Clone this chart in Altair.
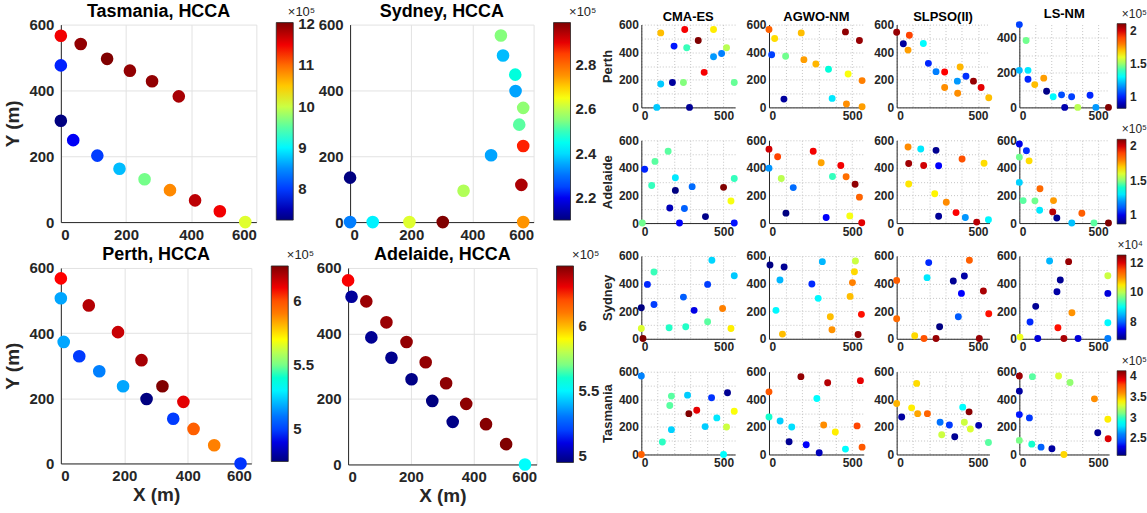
import altair as alt
import pandas as pd

FONT = "Liberation Sans"
INK = "#262626"
# jet colormap, 9 evenly spaced stops
JET = ["#000080", "#0000ff", "#0080ff", "#00ffff", "#80ff80",
       "#ffff00", "#ff8000", "#ff0000", "#800000"]

# ---------------- HCCA layouts (large panels), colour in units of 1e5 ----------------
TAS_HCCA_X = [0, 61, 142, 212, 280, 362, 0, 0, 38, 112, 180, 257, 335, 412, 488, 566]
TAS_HCCA_Y = [566, 541, 496, 460, 428, 382, 476, 308, 249, 202, 162, 130, 97, 66, 33, 0]
TAS_HCCA_C = [11.5, 11.95, 12.04, 11.95, 11.95, 11.85, 7.9, 7.24, 7.8, 8.0, 8.7, 9.6, 10.8, 11.75, 11.5, 10.1]

SYD_HCCA_X = [493, 500, 540, 541, 566, 553, 566, 461, 560, 371, 0, 0, 74, 194, 303, 566]
SYD_HCCA_Y = [567, 506, 448, 398, 347, 296, 231, 203, 113, 95, 135, 0, 0, 0, 0, 0]
SYD_HCCA_C = [2.55, 2.37, 2.47, 2.35, 2.56, 2.52, 2.87, 2.35, 2.95, 2.59, 2.10, 2.32, 2.42, 2.63, 2.99, 2.75]

PER_HCCA_X = [0, 0, 88, 180, 254, 320, 386, 9, 58, 121, 196, 270, 354, 418, 483, 566]
PER_HCCA_Y = [568, 507, 485, 403, 317, 237, 189, 373, 329, 283, 237, 198, 137, 106, 56, 0]
PER_HCCA_C = [6.08, 5.18, 6.19, 6.16, 6.21, 6.27, 6.12, 5.18, 4.99, 5.13, 5.18, 4.75, 4.99, 5.97, 5.89, 4.98]

ADE_HCCA_X = [0, 11, 58, 122, 74, 186, 138, 247, 202, 312, 268, 376, 333, 439, 503, 563]
ADE_HCCA_Y = [562, 512, 498, 434, 388, 374, 326, 312, 260, 248, 194, 185, 130, 123, 62, 0]
ADE_HCCA_C = [6.28, 4.99, 6.42, 6.42, 4.98, 6.43, 4.97, 6.43, 4.96, 6.44, 4.95, 6.44, 4.96, 6.45, 6.46, 5.52]

# ---------------- comparison layouts (small panels) ----------------
PER_CMA_X = [118, 264, 439, 346, 199, 276, 518, 488, 439, 382, 118, 189, 256, 565, 94, 293]
PER_CMA_Y = [540, 564, 564, 485, 444, 432, 432, 391, 367, 254, 170, 180, 180, 180, 0, 0]
PER_CMA_C = [1.71, 1.96, 1.65, 2.11, 0.99, 1.40, 1.54, 1.14, 1.17, 1.96, 1.23, 0.86, 1.47, 1.44, 1.23, 0.85]

PER_AGWO_X = [0, 34, 194, 460, 544, 16, 100, 210, 282, 358, 476, 560, 90, 380, 466, 560]
PER_AGWO_Y = [564, 499, 540, 547, 485, 382, 370, 346, 314, 276, 242, 194, 60, 65, 24, 5]
PER_AGWO_C = [1.85, 1.67, 1.71, 2.09, 2.08, 1.03, 1.45, 1.75, 1.72, 1.36, 1.62, 1.79, 0.86, 1.27, 1.77, 1.75]

PER_SLPSO_X = [0, 78, 41, 70, 164, 195, 242, 295, 390, 426, 373, 472, 295, 375, 519, 566]
PER_SLPSO_Y = [545, 523, 461, 415, 463, 319, 259, 257, 293, 226, 190, 190, 144, 103, 144, 70]
PER_SLPSO_C = [2.08, 1.90, 0.86, 1.75, 1.30, 1.00, 1.14, 1.95, 1.72, 1.01, 1.17, 2.08, 1.77, 1.77, 1.98, 1.71]

PER_LS_X = [0, 43, 0, 55, 55, 155, 98, 173, 215, 268, 332, 449, 288, 371, 486, 566]
PER_LS_Y = [476, 385, 213, 213, 162, 168, 131, 93, 61, 72, 61, 70, 0, 0, 0, 0]
PER_LS_C = [1.03, 1.45, 1.21, 1.27, 1.00, 1.75, 1.71, 0.83, 1.30, 1.05, 1.03, 1.00, 0.88, 1.54, 1.17, 2.11]

ADE_CMA_X = [163, 83, 20, 63, 207, 207, 309, 500, 565, 545, 173, 262, 390, 6, 232, 565]
ADE_CMA_Y = [521, 447, 390, 272, 328, 237, 264, 259, 323, 160, 109, 106, 47, 0, 0, 0]
ADE_CMA_C = [1.45, 1.45, 1.04, 1.42, 1.30, 0.87, 1.14, 2.10, 1.42, 1.63, 0.94, 1.12, 0.88, 1.47, 1.02, 1.03]

ADE_AGWO_X = [0, 52, 266, 0, 74, 146, 314, 382, 432, 464, 518, 544, 102, 344, 486, 558]
ADE_AGWO_Y = [536, 481, 521, 398, 323, 257, 437, 338, 417, 336, 281, 188, 72, 40, 52, 2]
ADE_AGWO_C = [2.00, 1.90, 1.96, 1.20, 1.56, 1.14, 1.75, 1.42, 1.96, 1.83, 2.08, 1.85, 0.87, 1.02, 1.63, 1.98]

ADE_SLPSO_X = [70, 148, 242, 74, 166, 258, 402, 537, 74, 234, 305, 365, 258, 422, 492, 564]
ADE_SLPSO_Y = [551, 537, 527, 432, 417, 415, 464, 434, 283, 212, 151, 76, 49, 41, 7, 24]
ADE_SLPSO_C = [1.78, 1.30, 0.89, 2.06, 2.00, 1.02, 1.88, 1.68, 1.67, 1.65, 1.78, 1.95, 0.90, 1.20, 2.03, 1.32]

ADE_LS_X = [0, 45, 0, 62, 0, 131, 24, 99, 217, 129, 212, 238, 333, 397, 474, 566]
ADE_LS_Y = [573, 525, 478, 451, 295, 249, 163, 161, 163, 93, 81, 37, 0, 71, 0, 0]
ADE_LS_C = [1.00, 1.05, 1.47, 1.68, 1.27, 1.84, 1.45, 1.47, 1.76, 1.30, 2.03, 0.89, 1.25, 1.86, 1.45, 2.10]

SYD_CMA_X = [429, 565, 77, 37, 403, 256, 77, 0, 321, 494, 403, 0, 169, 270, 545, 10]
SYD_CMA_Y = [569, 457, 484, 394, 394, 302, 249, 225, 206, 220, 123, 75, 80, 87, 75, 2]
SYD_CMA_C = [8.68, 8.6, 9.37, 7.59, 7.7, 7.93, 7.7, 6.8, 7.36, 11.1, 9.5, 10.2, 9.3, 9.3, 10.47, 12.54]

SYD_AGWO_X = [6, 91, 321, 520, 66, 258, 514, 502, 42, 296, 488, 556, 369, 379, 81, 536]
SYD_AGWO_Y = [535, 520, 559, 564, 426, 397, 486, 407, 206, 293, 307, 177, 160, 65, 34, 31]
SYD_AGWO_C = [6.8, 6.9, 8.5, 10.1, 8.5, 7.6, 10.6, 11.1, 8.9, 8.9, 10.75, 11.8, 10.75, 11.0, 10.75, 12.4]

SYD_SLPSO_X = [197, 447, 0, 187, 348, 416, 398, 533, 566, 379, 0, 264, 111, 168, 242, 508]
SYD_SLPSO_Y = [552, 569, 423, 443, 419, 455, 329, 346, 181, 160, 145, 87, 22, 2, 2, 2]
SYD_SLPSO_C = [7.6, 11.4, 11.4, 8.8, 6.9, 7.0, 7.5, 12.3, 11.8, 7.9, 11.3, 6.8, 10.6, 11.5, 12.4, 12.4]

SYD_LS_X = [192, 313, 260, 239, 562, 562, 104, 334, 68, 245, 562, 4, 117, 283, 373, 562]
SYD_LS_Y = [564, 559, 426, 341, 457, 329, 235, 189, 121, 80, 116, 12, 2, 2, 2, 2]
SYD_LS_C = [8.5, 12.4, 6.9, 7.0, 10.1, 7.3, 6.9, 11.0, 7.6, 11.8, 8.9, 10.3, 7.3, 12.3, 7.3, 8.2]

TAS_CMA_X = [0, 0, 183, 173, 281, 427, 524, 289, 337, 565, 183, 388, 459, 518, 128, 500]
TAS_CMA_Y = [569, 0, 423, 355, 430, 411, 447, 296, 321, 313, 180, 202, 265, 199, 90, 0]
TAS_CMA_C = [2.60, 3.73, 3.05, 3.05, 2.74, 2.39, 2.12, 4.14, 3.93, 3.36, 2.75, 2.74, 2.80, 3.27, 2.99, 2.85]

TAS_AGWO_X = [192, 353, 550, 0, 288, 0, 67, 137, 329, 399, 530, 121, 224, 302, 460, 560]
TAS_AGWO_Y = [564, 520, 535, 454, 406, 272, 243, 199, 214, 163, 207, 92, 70, 12, 39, 53]
TAS_AGWO_C = [4.10, 4.03, 3.93, 3.75, 2.85, 2.97, 2.74, 2.78, 3.60, 3.40, 3.80, 2.12, 2.33, 2.20, 2.85, 3.75]

TAS_SLPSO_X = [0, 123, 31, 92, 129, 189, 267, 324, 277, 357, 406, 445, 416, 453, 504, 564]
TAS_SLPSO_Y = [369, 515, 272, 338, 296, 296, 233, 214, 143, 129, 343, 309, 233, 185, 211, 87]
TAS_SLPSO_C = [3.52, 3.44, 2.15, 3.40, 3.55, 3.72, 2.55, 2.40, 3.27, 2.12, 2.85, 4.12, 3.27, 3.30, 2.18, 3.05]

TAS_LS_X = [0, 83, 249, 322, 0, 0, 64, 0, 79, 138, 207, 283, 477, 562, 498, 564]
TAS_LS_Y = [569, 564, 569, 522, 459, 289, 265, 102, 75, 53, 41, 0, 403, 255, 158, 114]
TAS_LS_C = [4.08, 3.05, 3.30, 3.15, 2.15, 2.35, 2.40, 3.10, 2.97, 2.50, 2.15, 3.45, 3.60, 3.40, 2.12, 3.95]

METHODS = ["CMA-ES", "AGWO-NM", "SLPSO(II)", "LS-NM"]
# plot-area widths of the four method columns
COL_W = [94, 95, 93, 90]


def jet(lo, hi):
    stops = [lo + (hi - lo) * k / 8 for k in range(9)]
    return alt.Scale(domain=stops, range=JET)


def big_panel(name, xs, ys, cs, lo, hi, ticks, w, h, show_x, show_y):
    df = pd.DataFrame({"x": xs, "y": ys, "c": cs})
    common = dict(values=[0, 200, 400, 600], ticks=False,
                  labelFont=FONT, labelFontSize=15, labelFontWeight="bold", labelColor=INK,
                  grid=True, gridColor="#e2e2e2", domainColor=INK,
                  titleFont=FONT, titleFontSize=19, titleFontWeight="bold", titleColor=INK)
    x_axis = alt.Axis(title="X (m)" if show_x else None, labelPadding=5, titlePadding=2, **common)
    y_axis = alt.Axis(title="Y (m)" if show_y else None, labelPadding=7, titlePadding=6, **common)
    legend = alt.Legend(orient="none", legendX=w + 20, legendY=-19, direction="vertical",
                        gradientLength=h, gradientThickness=17, values=ticks, format=".3~g",
                        title="×10⁵", titleFont=FONT, titleFontSize=13, titleFontWeight="normal",
                        titleColor=INK, titleAnchor="end", titlePadding=4,
                        labelFont=FONT, labelFontSize=15, labelFontWeight="bold", labelColor=INK,
                        labelOffset=5, gradientStrokeColor=INK, gradientStrokeWidth=0.8)
    return alt.Chart(df, title=alt.Title(f"{name}, HCCA", font=FONT, fontSize=18,
                                         fontWeight="bold", color="black", offset=-15)).mark_circle(
        size=160, opacity=1).encode(
        x=alt.X("x:Q", scale=alt.Scale(domain=[0, 600], nice=False), axis=x_axis),
        y=alt.Y("y:Q", scale=alt.Scale(domain=[0, 600], nice=False), axis=y_axis),
        color=alt.Color("c:Q", scale=jet(lo, hi), legend=legend),
    ).properties(width=w, height=h)


def small_panel(col, xs, ys, cs, lo, hi, ytop=600, show_title=False, row_name=None, legend_spec=None):
    df = pd.DataFrame({"x": xs, "y": ys, "c": cs})
    w = COL_W[col]
    common = dict(ticks=False, labelPadding=3, labelFont=FONT, labelFontSize=12,
                  labelFontWeight="bold", labelColor=INK, grid=True, gridColor="#c4c4c4",
                  gridDash=[1, 2], domainColor=INK, titleFont=FONT, titleFontSize=13,
                  titleFontWeight="bold", titleColor=INK, titlePadding=4)
    x_axis = alt.Axis(values=[0, 100, 200, 300, 400, 500], title=None,
                      labelExpr="datum.value == 0 || datum.value == 500 ? datum.label : ''", **common)
    y_axis = alt.Axis(values=list(range(0, ytop + 1, 100)), title=row_name,
                      labelExpr="datum.value % 200 == 0 ? datum.label : ''", **common)
    if legend_spec is None:
        legend = None
    else:
        ticks, ltitle = legend_spec
        legend = alt.Legend(orient="none", legendX=w + 8, legendY=-16, direction="vertical",
                            gradientLength=85, gradientThickness=9, values=ticks, format=".3~g",
                            title=ltitle, titleFont=FONT, titleFontSize=12, titleFontWeight="normal",
                            titleColor=INK, titleAnchor="end", titlePadding=3,
                            labelFont=FONT, labelFontSize=12, labelFontWeight="bold", labelColor=INK,
                            labelOffset=4, gradientStrokeColor=INK, gradientStrokeWidth=0.6)
    kwargs = {}
    if show_title:
        kwargs["title"] = alt.Title(METHODS[col], font=FONT, fontSize=13, fontWeight="bold",
                                    color="black", offset=-12 if legend_spec else -5)
    return alt.Chart(df, **kwargs).mark_circle(size=48, opacity=1).encode(
        x=alt.X("x:Q", scale=alt.Scale(domain=[0, 570], nice=False), axis=x_axis),
        y=alt.Y("y:Q", scale=alt.Scale(domain=[0, ytop], nice=False), axis=y_axis),
        color=alt.Color("c:Q", scale=jet(lo, hi), legend=legend),
    ).properties(width=w, height=83)


def hrow(*charts, spacing):
    return alt.hconcat(*charts, spacing=spacing).resolve_scale(
        color="independent", x="independent", y="independent").resolve_legend(color="independent")


def vcol(*charts, spacing):
    return alt.vconcat(*charts, spacing=spacing).resolve_scale(
        color="independent", x="independent", y="independent").resolve_legend(color="independent")


def method_row(panels):
    # first three method columns, then the column carrying the colour bar
    return hrow(hrow(*panels[:3], spacing=7), panels[3], spacing=3)


tas = big_panel("Tasmania", TAS_HCCA_X, TAS_HCCA_Y, TAS_HCCA_C, 7.24, 12.04, [8, 9, 10, 11, 12], 196, 198, False, True)
syd = big_panel("Sydney", SYD_HCCA_X, SYD_HCCA_Y, SYD_HCCA_C, 2.10, 2.99, [2.2, 2.4, 2.6, 2.8], 184, 198, False, False)
per = big_panel("Perth", PER_HCCA_X, PER_HCCA_Y, PER_HCCA_C, 4.75, 6.27, [5, 5.5, 6], 191, 196, True, True)
ade = big_panel("Adelaide", ADE_HCCA_X, ADE_HCCA_Y, ADE_HCCA_C, 4.95, 6.46, [5, 5.5, 6], 189, 197, True, False)

left = vcol(hrow(tas, syd, spacing=2), hrow(per, ade, spacing=1), spacing=4)

row_perth = method_row([
    small_panel(0, PER_CMA_X, PER_CMA_Y, PER_CMA_C, 0.82, 2.11, show_title=True, row_name="Perth"),
    small_panel(1, PER_AGWO_X, PER_AGWO_Y, PER_AGWO_C, 0.82, 2.11, show_title=True),
    small_panel(2, PER_SLPSO_X, PER_SLPSO_Y, PER_SLPSO_C, 0.82, 2.11, show_title=True),
    small_panel(3, PER_LS_X, PER_LS_Y, PER_LS_C, 0.82, 2.11, ytop=476, show_title=True,
                legend_spec=([1, 1.5, 2], "×10⁵")),
])
row_adelaide = method_row([
    small_panel(0, ADE_CMA_X, ADE_CMA_Y, ADE_CMA_C, 0.87, 2.10, row_name="Adelaide"),
    small_panel(1, ADE_AGWO_X, ADE_AGWO_Y, ADE_AGWO_C, 0.87, 2.10),
    small_panel(2, ADE_SLPSO_X, ADE_SLPSO_Y, ADE_SLPSO_C, 0.87, 2.10),
    small_panel(3, ADE_LS_X, ADE_LS_Y, ADE_LS_C, 0.87, 2.10, legend_spec=([1, 1.5, 2], "×10⁵")),
])
row_sydney = method_row([
    small_panel(0, SYD_CMA_X, SYD_CMA_Y, SYD_CMA_C, 6.78, 12.54, row_name="Sydney"),
    small_panel(1, SYD_AGWO_X, SYD_AGWO_Y, SYD_AGWO_C, 6.78, 12.54),
    small_panel(2, SYD_SLPSO_X, SYD_SLPSO_Y, SYD_SLPSO_C, 6.78, 12.54),
    small_panel(3, SYD_LS_X, SYD_LS_Y, SYD_LS_C, 6.78, 12.54, legend_spec=([8, 10, 12], "×10⁴")),
])
row_tasmania = method_row([
    small_panel(0, TAS_CMA_X, TAS_CMA_Y, TAS_CMA_C, 2.08, 4.14, row_name="Tasmania"),
    small_panel(1, TAS_AGWO_X, TAS_AGWO_Y, TAS_AGWO_C, 2.08, 4.14),
    small_panel(2, TAS_SLPSO_X, TAS_SLPSO_Y, TAS_SLPSO_C, 2.08, 4.14),
    small_panel(3, TAS_LS_X, TAS_LS_Y, TAS_LS_C, 2.08, 4.14, legend_spec=([2.5, 3, 3.5, 4], "×10⁵")),
])

right = vcol(row_perth, row_adelaide, row_sydney, row_tasmania, spacing=3)

chart = alt.hconcat(left, right, spacing=1).resolve_scale(
    color="independent", x="independent", y="independent").resolve_legend(
    color="independent").properties(
    padding={"left": 3, "top": 2, "right": 0, "bottom": 0}, background="white"
).configure_view(stroke=None)

chart.save("out.html", embed_options={"renderer": "svg", "actions": False})
